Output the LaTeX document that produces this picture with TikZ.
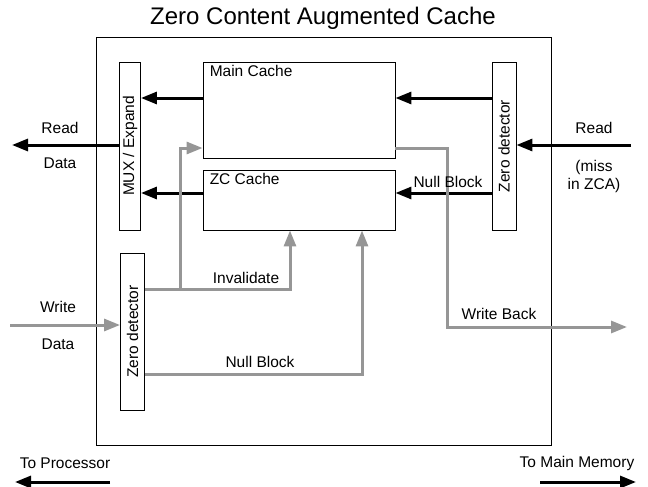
\documentclass[tikz,border=0pt]{standalone}
\usepackage{fontspec}
\setmainfont{Liberation Sans}
\usetikzlibrary{arrows.meta}
\definecolor{gl}{RGB}{150,150,150}
\begin{document}
\begin{tikzpicture}[x=1pt,y=-1pt,font=\fontsize{15.5}{18}\selectfont,
  box/.style={draw,line width=0.9pt,inner sep=0pt},
  blk/.style={line width=3pt,-{Triangle[length=16pt,width=12pt]}},
  gry/.style={draw=gl,line width=3pt,-{Triangle[length=16pt,width=12pt]},color=gl},
  lbl/.style={inner sep=0pt}]
\useasboundingbox (0,0) rectangle (648,487);
% title
\node[lbl,font=\fontsize{24}{28}\selectfont] (title) at (323,18) {Zero Content Augmented Cache};
% boxes
\node[box,minimum width=455pt,minimum height=408pt] (outer) at (323.5,241) {};
\node[box,minimum width=21pt,minimum height=168pt] (mux) at (130,146) {};
\node[lbl,rotate=90] (muxt) at (mux.center) {MUX / Expand};
\node[box,minimum width=192pt,minimum height=96pt] (main) at (299,110) {};
\node[lbl,anchor=north west] (maint) at ([shift={(7pt,-4pt)}]main.north west) {Main Cache};
\node[box,minimum width=192pt,minimum height=60pt] (zc) at (299,200) {};
\node[lbl,anchor=north west] (zct) at ([shift={(7pt,-4pt)}]zc.north west) {ZC Cache};
\node[box,minimum width=24pt,minimum height=168pt] (rzd) at (504,146) {};
\node[lbl,rotate=90] (rzdt) at (rzd.center) {Zero detector};
\node[box,minimum width=24pt,minimum height=157pt] (lzd) at (132.5,331.5) {};
\node[lbl,rotate=90] (lzdt) at (lzd.center) {Zero detector};
% coordinates
\coordinate (rdout) at (12,145);
\coordinate (rdin) at (631,145);
\coordinate (wrin) at (10,325);
\coordinate (br) at (180,289);
\coordinate (wbturn) at (447,327);
\coordinate (wbend) at (627,327);
% black arrows
\draw[blk] (main.west |- 0,98) -- (mux.east |- 0,98);
\draw[blk] (zc.west |- 0,193) -- (mux.east |- 0,193);
\draw[blk] (rzd.west |- 0,98) -- (main.east |- 0,98);
\draw[blk] (rzd.west |- 0,193) -- (zc.east |- 0,193);
\draw[blk] (mux.west |- 0,145) -- (rdout);
\draw[blk] (rdin) -- (rzd.east |- 0,145);
% gray arrows
\draw[gry] (wrin) -- (lzd.west |- wrin);
\draw[gry] (lzd.east |- br) -| (zc.south -| 290,0);
\draw[gry] (br) |- (main.west |- 0,148);
\draw[gry] (lzd.east |- 0,374) -| (zc.south -| 362,0);
\draw[gry] (main.east |- 0,148) -| (wbturn) -- (wbend);
% labels
\node[lbl] (l1) at (60,128) {Read};
\node[lbl] (l2) at (60,163) {Data};
\node[lbl] (l3) at (594,128) {Read};
\node[lbl,align=center] (l4) at (594,176) {(miss\\in ZCA)};
\node[lbl] (l5) at (448,182) {Null Block};
\node[lbl] (l6) at (58,307) {Write};
\node[lbl] (l7) at (58,344) {Data};
\node[lbl] (l8) at (246,278) {Invalidate};
\node[lbl] (l9) at (260,362) {Null Block};
\node[lbl] (l10) at (499,314) {Write Back};
\node[lbl] (l11) at (65,463) {To Processor};
\node[lbl] (l12) at (577,463) {To Main Memory};
% bottom arrows
\coordinate (tp1) at (110,482);
\coordinate (tp2) at (15,482);
\coordinate (tm1) at (540,482);
\coordinate (tm2) at (636,482);
\draw[blk] (tp1) -- (tp2);
\draw[blk] (tm1) -- (tm2);
\end{tikzpicture}
\end{document}
